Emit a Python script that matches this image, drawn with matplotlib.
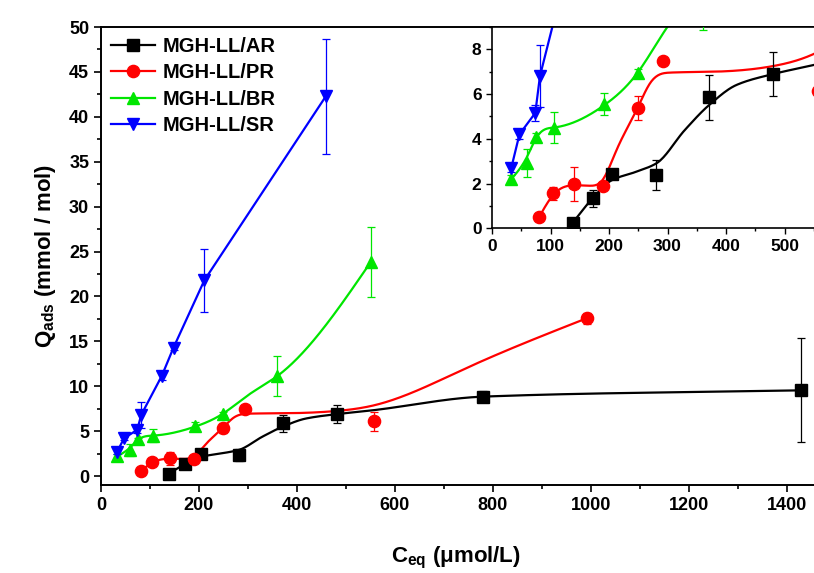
import numpy as np
import matplotlib
matplotlib.use("Agg")
import matplotlib.pyplot as plt
from matplotlib.ticker import MultipleLocator, FixedLocator

plt.rcParams['font.family'] = ['Liberation Sans', 'DejaVu Sans']
plt.rcParams['font.weight'] = 'bold'
plt.rcParams['mathtext.fontset'] = 'custom'
plt.rcParams['mathtext.rm'] = 'Liberation Sans:bold'
plt.rcParams['mathtext.bf'] = 'Liberation Sans:bold'

# measured points (C_eq, Q_ads, error)
ar_x = [138, 172, 205, 281, 371, 481, 780, 1428]
ar_y = [0.25, 1.34, 2.42, 2.36, 5.85, 6.89, 8.84, 9.54]
ar_err = [0.15, 0.39, 0.15, 0.67, 1.0, 0.97, 0.6, 5.8]

pr_x = [81, 105, 141, 189, 249, 293, 557, 991]
pr_y = [0.52, 1.56, 1.96, 1.90, 5.38, 7.48, 6.12, 17.56]
pr_err = [0.1, 0.3, 0.76, 0.1, 0.54, 0.1, 1.06, 0.6]

br_x = [33, 60, 76, 106, 192, 249, 360, 551]
br_y = [2.2, 2.9, 4.09, 4.49, 5.55, 6.95, 11.14, 23.87]
br_err = [0.2, 0.63, 0.15, 0.7, 0.5, 0.15, 2.27, 3.88]

sr_x = [33, 47, 74, 82, 124, 148, 211, 459]
sr_y = [2.7, 4.2, 5.15, 6.8, 11.14, 14.3, 21.8, 42.3]
sr_err = [0.2, 0.2, 0.35, 1.4, 0.5, 0.3, 3.5, 6.4]

# smoothed fit curves (knots)
ar_fit_x = [138, 172, 205, 247, 281, 330, 371, 418, 481, 550, 780, 1428]
ar_fit_y = [0.25, 1.34, 2.15, 2.53, 2.9, 4.4, 5.5, 6.4, 6.89, 7.29, 8.84, 9.54]
pr_fit_x = [81, 105, 141, 168, 189, 213, 249, 270, 304, 361, 418, 480, 557, 740, 991]
pr_fit_y = [0.52, 1.5, 1.92, 1.9, 2.16, 3.5, 5.38, 6.47, 6.95, 6.98, 7.04, 7.24, 7.87, 11.88, 17.56]
br_fit_x = [33, 60, 76, 106, 192, 249, 300, 360, 551]
br_fit_y = [2.2, 3.2, 4.05, 4.5, 5.5, 6.95, 9.0, 11.14, 23.87]

labels = ['MGH-LL/AR', 'MGH-LL/PR', 'MGH-LL/BR', 'MGH-LL/SR']
colors = ['black', '#ff0000', '#00e600', '#0000ff']
markers = ['s', 'o', '^', 'v']


def spline(xk, yk, n=500):
    # natural cubic spline through the knots
    xk = np.asarray(xk, float)
    yk = np.asarray(yk, float)
    k = len(xk)
    h = np.diff(xk)
    d = np.diff(yk) / h
    A = np.zeros((k, k))
    b = np.zeros(k)
    A[0, 0] = A[-1, -1] = 1
    for i in range(1, k - 1):
        A[i, i - 1] = h[i - 1]
        A[i, i] = 2 * (h[i - 1] + h[i])
        A[i, i + 1] = h[i]
        b[i] = 6 * (d[i] - d[i - 1])
    M = np.linalg.solve(A, b)
    xs = np.linspace(xk[0], xk[-1], n)
    j = np.clip(np.searchsorted(xk, xs) - 1, 0, k - 2)
    a = xk[j + 1] - xs
    c = xs - xk[j]
    hj = h[j]
    ys = (M[j] * a**3 + M[j + 1] * c**3) / (6 * hj) \
        + (yk[j] / hj - M[j] * hj / 6) * a + (yk[j + 1] / hj - M[j + 1] * hj / 6) * c
    return xs, ys


def pchip(xk, yk, n=500):
    # monotone cubic, no overshoot on the long flat tail
    xk = np.asarray(xk, float)
    yk = np.asarray(yk, float)
    h = np.diff(xk)
    d = np.diff(yk) / h
    m = np.zeros_like(yk)
    for k in range(1, len(xk) - 1):
        if d[k - 1] * d[k] > 0:
            w1 = 2 * h[k] + h[k - 1]
            w2 = h[k] + 2 * h[k - 1]
            m[k] = (w1 + w2) / (w1 / d[k - 1] + w2 / d[k])
    m[0] = d[0]
    m[-1] = d[-1]
    xs = np.linspace(xk[0], xk[-1], n)
    j = np.clip(np.searchsorted(xk, xs) - 1, 0, len(h) - 1)
    t = (xs - xk[j]) / h[j]
    ys = (2 * t**3 - 3 * t**2 + 1) * yk[j] + (t**3 - 2 * t**2 + t) * h[j] * m[j] \
        + (-2 * t**3 + 3 * t**2) * yk[j + 1] + (t**3 - t**2) * h[j] * m[j + 1]
    return xs, ys


def draw(ax, msize, lw):
    series = [(ar_x, ar_y, ar_err), (pr_x, pr_y, pr_err), (br_x, br_y, br_err), (sr_x, sr_y, sr_err)]
    curves = [pchip(ar_fit_x, ar_fit_y), spline(pr_fit_x, pr_fit_y),
              spline(br_fit_x, br_fit_y), (sr_x, sr_y)]
    for i, ((x, y, e), (cx, cy)) in enumerate(zip(series, curves)):
        ax.plot(cx, cy, color=colors[i], lw=lw, zorder=2)
        ax.errorbar(x, y, yerr=e, fmt='none', ecolor=colors[i], elinewidth=0.9,
                    capsize=3, capthick=0.9, zorder=3)
        ax.plot(x, y, ls='none', marker=markers[i], color=colors[i], ms=msize, zorder=4)


fig = plt.figure(figsize=(8.14, 5.73), dpi=100)

ax = fig.add_axes([101 / 814, 88 / 573, 735 / 814, 458 / 573])
draw(ax, 8.8, 1.6)
ax.set_xlim(0, 1500)
ax.set_ylim(-1, 50)
ax.xaxis.set_major_locator(MultipleLocator(200))
ax.xaxis.set_minor_locator(MultipleLocator(100))
ax.yaxis.set_major_locator(MultipleLocator(5))
ax.yaxis.set_minor_locator(MultipleLocator(2.5))
ax.tick_params(which='both', direction='out', width=1.2, labelsize=13)
ax.tick_params(which='major', length=5)
ax.tick_params(which='minor', length=3)
for s in ax.spines.values():
    s.set_linewidth(1.4)
ax.set_xlabel(r'$\mathbf{C_{eq}}$ ($\mathbf{\mu}$mol/L)', fontsize=16, fontweight='bold')
ax.set_ylabel(r'$\mathbf{Q_{ads}}$ (mmol / mol)', fontsize=16, fontweight='bold', labelpad=8)
ax.xaxis.set_label_coords(355 / 735, -0.13)

handles = [plt.Line2D([], [], color=colors[i], marker=markers[i], ms=8.8, lw=1.6)
           for i in range(4)]
ax.legend(handles, labels, loc='upper left', bbox_to_anchor=(0.0, 1.0), frameon=False,
          handlelength=2.2, handletextpad=0.35, labelspacing=0.36,
          borderaxespad=0.2, borderpad=0.3, prop={'weight': 'bold', 'size': 14.5})

ins = fig.add_axes([492 / 814, 344.7 / 573, 351 / 814, 201.6 / 573])
draw(ins, 8.8, 1.6)
ins.set_xlim(0, 600)
ins.set_ylim(0, 9)
ins.xaxis.set_major_locator(FixedLocator([0, 100, 200, 300, 400, 500]))
ins.xaxis.set_minor_locator(MultipleLocator(50))
ins.yaxis.set_major_locator(MultipleLocator(2))
ins.yaxis.set_minor_locator(MultipleLocator(1))
ins.tick_params(which='both', direction='out', width=1.0, labelsize=12.5)
ins.tick_params(which='major', length=4)
ins.tick_params(which='minor', length=2.5)
for s in ins.spines.values():
    s.set_linewidth(1.2)

fig.savefig('out.png', dpi=100)
